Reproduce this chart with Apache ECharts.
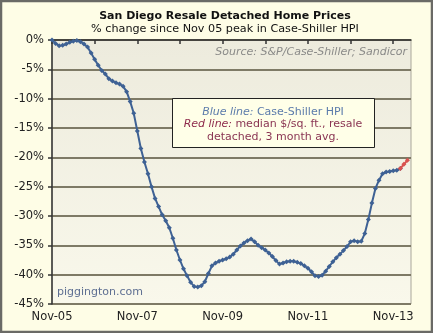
<!DOCTYPE html>
<html><head><meta charset="utf-8">
<script src="https://cdn.jsdelivr.net/npm/echarts@6/dist/echarts.min.js"></script>
<style>html,body{margin:0;padding:0;background:#FEFDE6;}#c{width:433px;height:333px;}</style>
</head><body><div id="c"></div>
<script>
// Month labels (Nov-05 .. Apr-14)
var monthNames = ['Jan','Feb','Mar','Apr','May','Jun','Jul','Aug','Sep','Oct','Nov','Dec'];
var startYear = 2005, startMonth = 10, monthCount = 102;
var categories = [];
for (var k = 0; k < monthCount; k++) {
  var m = (startMonth + k) % 12, y = startYear + Math.floor((startMonth + k) / 12);
  categories.push(monthNames[m] + '-' + String(y % 100).padStart(2, '0'));
}
var yTicks = [0, -5, -10, -15, -20, -25, -30, -35, -40, -45];
// Case-Shiller HPI, % change since Nov 05 (monthly, from Nov-05)
var blueValues = [0, -0.6, -1.0, -0.9, -0.7, -0.4, -0.2, -0.1, -0.3, -0.7,
  -1.2, -2.2, -3.3, -4.3, -5.2, -5.8, -6.6, -7.0, -7.3, -7.5,
  -7.9, -8.8, -10.5, -12.5, -15.5, -18.5, -20.8, -22.8, -25.0, -27.0,
  -28.4, -29.8, -30.8, -32.0, -33.8, -35.8, -37.5, -39.0, -40.2, -41.3,
  -42.0, -42.1, -41.9, -41.2, -39.8, -38.5, -38.0, -37.7, -37.5, -37.3,
  -37.0, -36.5, -35.8, -35.1, -34.6, -34.2, -33.9, -34.4, -35.0, -35.4,
  -35.8, -36.3, -36.9, -37.6, -38.2, -38.0, -37.8, -37.7, -37.7, -37.9,
  -38.1, -38.5, -38.9, -39.5, -40.2, -40.3, -40.1, -39.4, -38.6, -37.8,
  -37.1, -36.5, -35.9, -35.2, -34.4, -34.2, -34.4, -34.3, -33.0, -30.6,
  -27.8, -25.3, -23.9, -22.8, -22.5, -22.4, -22.3, -22.2, -21.9];
// Median $/sq.ft. resale detached, 3 month avg (from Jan-14)
var redStart = 'Jan-14';
var redValues = [-21.9, -21.2, -20.5];

var redIdx = categories.indexOf(redStart);
var redData = categories.map(function (c, i) {
  var j = i - redIdx; return (j >= 0 && j < redValues.length) ? redValues[j] : null;
});

var FONT = 'DejaVu Sans';
var chart = echarts.init(document.getElementById('c'), null, {renderer: 'canvas'});
chart.setOption({
  backgroundColor: '#FEFDE6',
  animation: false,
  grid: {left: 52, right: 22, top: 40, bottom: 29, show: true,
    borderColor: '#A9A79A', borderWidth: 1,
    backgroundColor: new echarts.graphic.LinearGradient(0, 0, 0, 1, [
      {offset: 0, color: '#EDEBDD'}, {offset: 1, color: '#F9F8EB'}])},
  xAxis: {
    type: 'category', data: categories, boundaryGap: false,
    axisLine: {lineStyle: {color: '#333', width: 1.5}},
    axisTick: {length: 4, interval: function (i) { return i % 12 === 0; }, lineStyle: {color: '#333', width: 1.5}},
    axisLabel: {interval: function (i) { return i % 24 === 0; }, color: '#222', fontFamily: FONT, fontSize: 11.5, margin: 7},
    splitLine: {show: false}
  },
  yAxis: {
    type: 'value', min: yTicks[yTicks.length - 1], max: yTicks[0], interval: 5,
    axisLine: {show: true, lineStyle: {color: '#333', width: 1.5}},
    axisTick: {show: true, length: 4, lineStyle: {color: '#333', width: 1.5}},
    axisLabel: {formatter: '{value}%', color: '#222', fontFamily: FONT, fontSize: 11.5, margin: 8},
    splitLine: {lineStyle: {color: '#7E7A66', width: 2}}
  },
  series: [
    {type: 'line', data: blueValues, symbol: 'diamond', symbolSize: 5, showSymbol: true, showAllSymbol: true,
      lineStyle: {color: '#3E6194', width: 2}, itemStyle: {color: '#3E6194'}, z: 3},
    {type: 'line', data: redData, symbol: 'diamond', symbolSize: 5, showAllSymbol: true, connectNulls: false,
      lineStyle: {color: '#D9534F', width: 2}, itemStyle: {color: '#D9534F'}, z: 4}
  ],
  graphic: [
    {type: 'rect', shape: {x: 1, y: 1, width: 431, height: 331}, style: {fill: 'none', stroke: '#6A6A66', lineWidth: 2.5}, z: 200},
    {type: 'text', x: 225, y: 16, style: {text: 'San Diego Resale Detached Home Prices', font: 'bold 11px "DejaVu Sans"', fill: '#111', align: 'center', verticalAlign: 'middle'}},
    {type: 'text', x: 225, y: 29, style: {text: '% change since Nov 05 peak in Case-Shiller HPI', font: '11.2px "DejaVu Sans"', fill: '#111', align: 'center', verticalAlign: 'middle'}},
    {type: 'text', x: 407, y: 52, z: 50, style: {text: 'Source: S&P/Case-Shiller; Sandicor', font: 'italic 11px "DejaVu Sans"', fill: '#8A8A88', align: 'right', verticalAlign: 'middle'}},
    {type: 'text', x: 57, y: 292, z: 50, style: {text: 'piggington.com', font: '11px "DejaVu Sans"', fill: '#5E6F92', align: 'left', verticalAlign: 'middle'}},
    {type: 'rect', z: 100, shape: {x: 172.5, y: 98.5, width: 202, height: 49}, style: {fill: '#FFFFE8', stroke: '#222', lineWidth: 1}},
    {type: 'text', z: 101, x: 273, y: 112, style: {rich: {
        bi: {font: 'italic 11px "DejaVu Sans"', fill: '#5B7BAB'},
        b: {font: '11px "DejaVu Sans"', fill: '#5B7BAB'}},
      text: '{bi|Blue line:} {b|Case-Shiller HPI}', align: 'center', verticalAlign: 'middle'}},
    {type: 'text', z: 101, x: 273, y: 124.5, style: {rich: {
        ri: {font: 'italic 11px "DejaVu Sans"', fill: '#8E2B4C'},
        r: {font: '11px "DejaVu Sans"', fill: '#8A3553'}},
      text: '{ri|Red line:} {r|median $/sq. ft., resale}', align: 'center', verticalAlign: 'middle'}},
    {type: 'text', z: 101, x: 273, y: 137, style: {text: 'detached, 3 month avg.', font: '11px "DejaVu Sans"', fill: '#8A3553', align: 'center', verticalAlign: 'middle'}}
  ]
});
</script></body></html>
